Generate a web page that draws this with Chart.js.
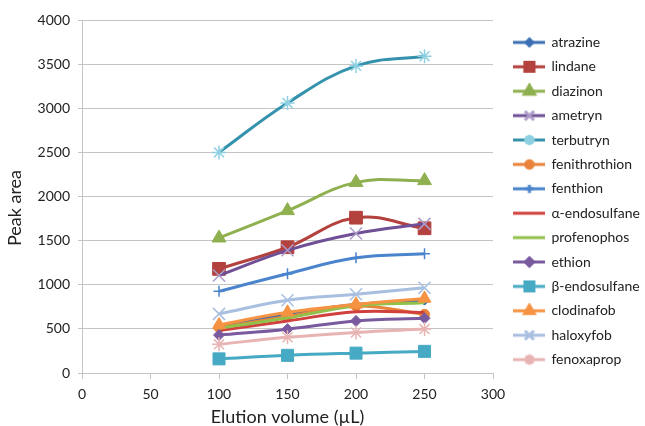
<!DOCTYPE html>
<html>
<head>
<meta charset="utf-8">
<script src="https://cdn.jsdelivr.net/npm/chart.js@4/dist/chart.umd.min.js"></script>
<style>
  html, body { margin: 0; padding: 0; background: #fff; }
  #wrap { width: 645px; height: 426px; }
</style>
</head>
<body>
<div id="wrap"><canvas id="myChart" width="645" height="426"></canvas></div>
<script>
// elution volumes (uL)
const volumes = [100, 150, 200, 250];

// peak areas
const atrazine      = [525, 665, 775, 820];
const lindane       = [1180, 1425, 1760, 1640];
const diazinon      = [1530, 1840, 2160, 2180];
const ametryn       = [1105, 1390, 1580, 1690];
const terbutryn     = [2500, 3060, 3480, 3590];
const fenithrothion = [515, 640, 760, 665];
const fenthion      = [925, 1125, 1305, 1350];
const aEndosulfane  = [480, 590, 695, 685];
const profenophos   = [505, 625, 760, 795];
const ethion        = [430, 497, 590, 620];
const bEndosulfane  = [160, 200, 225, 245];
const clodinafob    = [545, 688, 778, 845];
const haloxyfob     = [670, 825, 892, 965];
const fenoxaprop    = [325, 405, 460, 498];

const seriesNames = ['atrazine', 'lindane', 'diazinon', 'ametryn', 'terbutryn', 'fenithrothion',
  'fenthion', 'α-endosulfane', 'profenophos', 'ethion', 'β-endosulfane', 'clodinafob',
  'haloxyfob', 'fenoxaprop'];
const seriesValues = [atrazine, lindane, diazinon, ametryn, terbutryn, fenithrothion,
  fenthion, aEndosulfane, profenophos, ethion, bEndosulfane, clodinafob, haloxyfob, fenoxaprop];

const yTicks = [0, 500, 1000, 1500, 2000, 2500, 3000, 3500, 4000];
const xTicks = [0, 50, 100, 150, 200, 250, 300];

// look of each series (line colour, marker)
const styles = [
  { color: '#3b6fb3', marker: 'rectRot', r: 4.5 },
  { color: '#b3413e', marker: 'rect', r: 9 },
  { color: '#8fb04e', marker: 'triangle', r: 8 },
  { color: '#6f4f96', marker: 'crossRot', r: 8.5, fill: '#ad9cc8' },
  { color: '#3592ad', marker: 'star', r: 7, fill: '#8dd0e2' },
  { color: '#e9833a', marker: 'circle', r: 5 },
  { color: '#4a84cc', marker: 'cross', r: 5.5 },
  { color: '#d0403c', marker: false, r: 0 },
  { color: '#92c04a', marker: false, r: 0 },
  { color: '#7a5a9e', marker: 'rectRot', r: 5.5 },
  { color: '#47aac4', marker: 'rect', r: 8.5 },
  { color: '#f69342', marker: 'triangle', r: 7.5 },
  { color: '#a9bfe0', marker: 'crossRot', r: 8.5 },
  { color: '#e8b4b3', marker: 'star', r: 7 }
];

const FONT = 'Lato, "Open Sans", sans-serif';
const GRID = '#c4c4c4';
const TEXT = '#222';

// legend symbol: short line with the series marker in the middle
function legendSymbol(st) {
  const c = document.createElement('canvas');
  c.width = 32; c.height = 16;
  const ctx = c.getContext('2d');
  ctx.strokeStyle = st.color;
  ctx.lineWidth = 3;
  ctx.beginPath(); ctx.moveTo(0, 8); ctx.lineTo(32, 8); ctx.stroke();
  if (st.marker) {
    ctx.fillStyle = st.fill || st.color;
    ctx.strokeStyle = st.fill || st.color;
    Chart.helpers.drawPoint(ctx, {
      pointStyle: st.marker, rotation: 0,
      radius: Math.min(st.r * 0.75, 6.5), borderWidth: 1.3
    }, 16, 8);
  }
  return c;
}

// nudge the legend box to where the original has it
const legendNudge = {
  id: 'legendNudge',
  afterLayout(chart) {
    const lg = chart.legend;
    if (!lg) return;
    lg.left += 11; lg.right += 11;
    lg.top -= 22; lg.bottom -= 22;
  }
};

const datasets = seriesNames.map((name, i) => {
  const st = styles[i];
  const thin = ['cross', 'crossRot', 'star'].includes(st.marker);
  return {
    label: name,
    data: volumes.map((v, k) => ({ x: v, y: seriesValues[i][k] })),
    borderColor: st.color,
    backgroundColor: st.fill || st.color,
    borderWidth: 3,
    tension: 0.4,
    pointStyle: st.marker,
    pointRadius: st.r,
    pointBorderWidth: thin ? 1.5 : 1,
    pointBorderColor: st.fill || st.color,
    pointBackgroundColor: st.fill || st.color,
    order: -i
  };
});

new Chart(document.getElementById('myChart'), {
  type: 'line',
  data: { datasets: datasets },
  plugins: [legendNudge],
  options: {
    responsive: false,
    animation: false,
    layout: { padding: { top: 20, left: 4, right: 6, bottom: 0 } },
    plugins: {
      tooltip: { enabled: false },
      legend: {
        position: 'right',
        labels: {
          usePointStyle: true,
          pointStyleWidth: 30,
          padding: 10.4,
          color: TEXT,
          font: { family: FONT, size: 14 },
          sort: (a, b) => a.datasetIndex - b.datasetIndex,
          generateLabels: chart => {
            const items = Chart.defaults.plugins.legend.labels.generateLabels(chart);
            items.forEach(it => {
              it.pointStyle = legendSymbol(styles[it.datasetIndex]);
              it.rotation = 0;
            });
            return items;
          }
        }
      }
    },
    scales: {
      x: {
        type: 'linear',
        min: 0, max: 300,
        afterBuildTicks: s => { s.ticks = xTicks.map(v => ({ value: v })); },
        afterFit: s => { s.height = 53; },
        grid: { display: true, drawOnChartArea: false, drawTicks: true, tickLength: 6, color: GRID },
        border: { color: GRID, width: 1 },
        ticks: { color: TEXT, font: { family: FONT, size: 14 }, padding: 7, maxRotation: 0,
          callback: v => String(v) },
        title: { display: true, text: 'Elution volume (µL)', color: TEXT,
          font: { family: FONT, size: 18, lineHeight: 1 }, padding: 0 }
      },
      y: {
        min: 0, max: 4000,
        afterBuildTicks: s => { s.ticks = yTicks.map(v => ({ value: v })); },
        afterFit: s => { s.width = 78; },
        grid: { color: GRID, tickLength: 4 },
        border: { color: GRID, width: 1 },
        ticks: { color: TEXT, font: { family: FONT, size: 14 }, padding: 8,
          callback: v => String(v) },
        title: { display: true, text: 'Peak area     ', color: TEXT, font: { family: FONT, size: 18 }, padding: 0 }
      }
    }
  }
});
</script>
</body>
</html>
